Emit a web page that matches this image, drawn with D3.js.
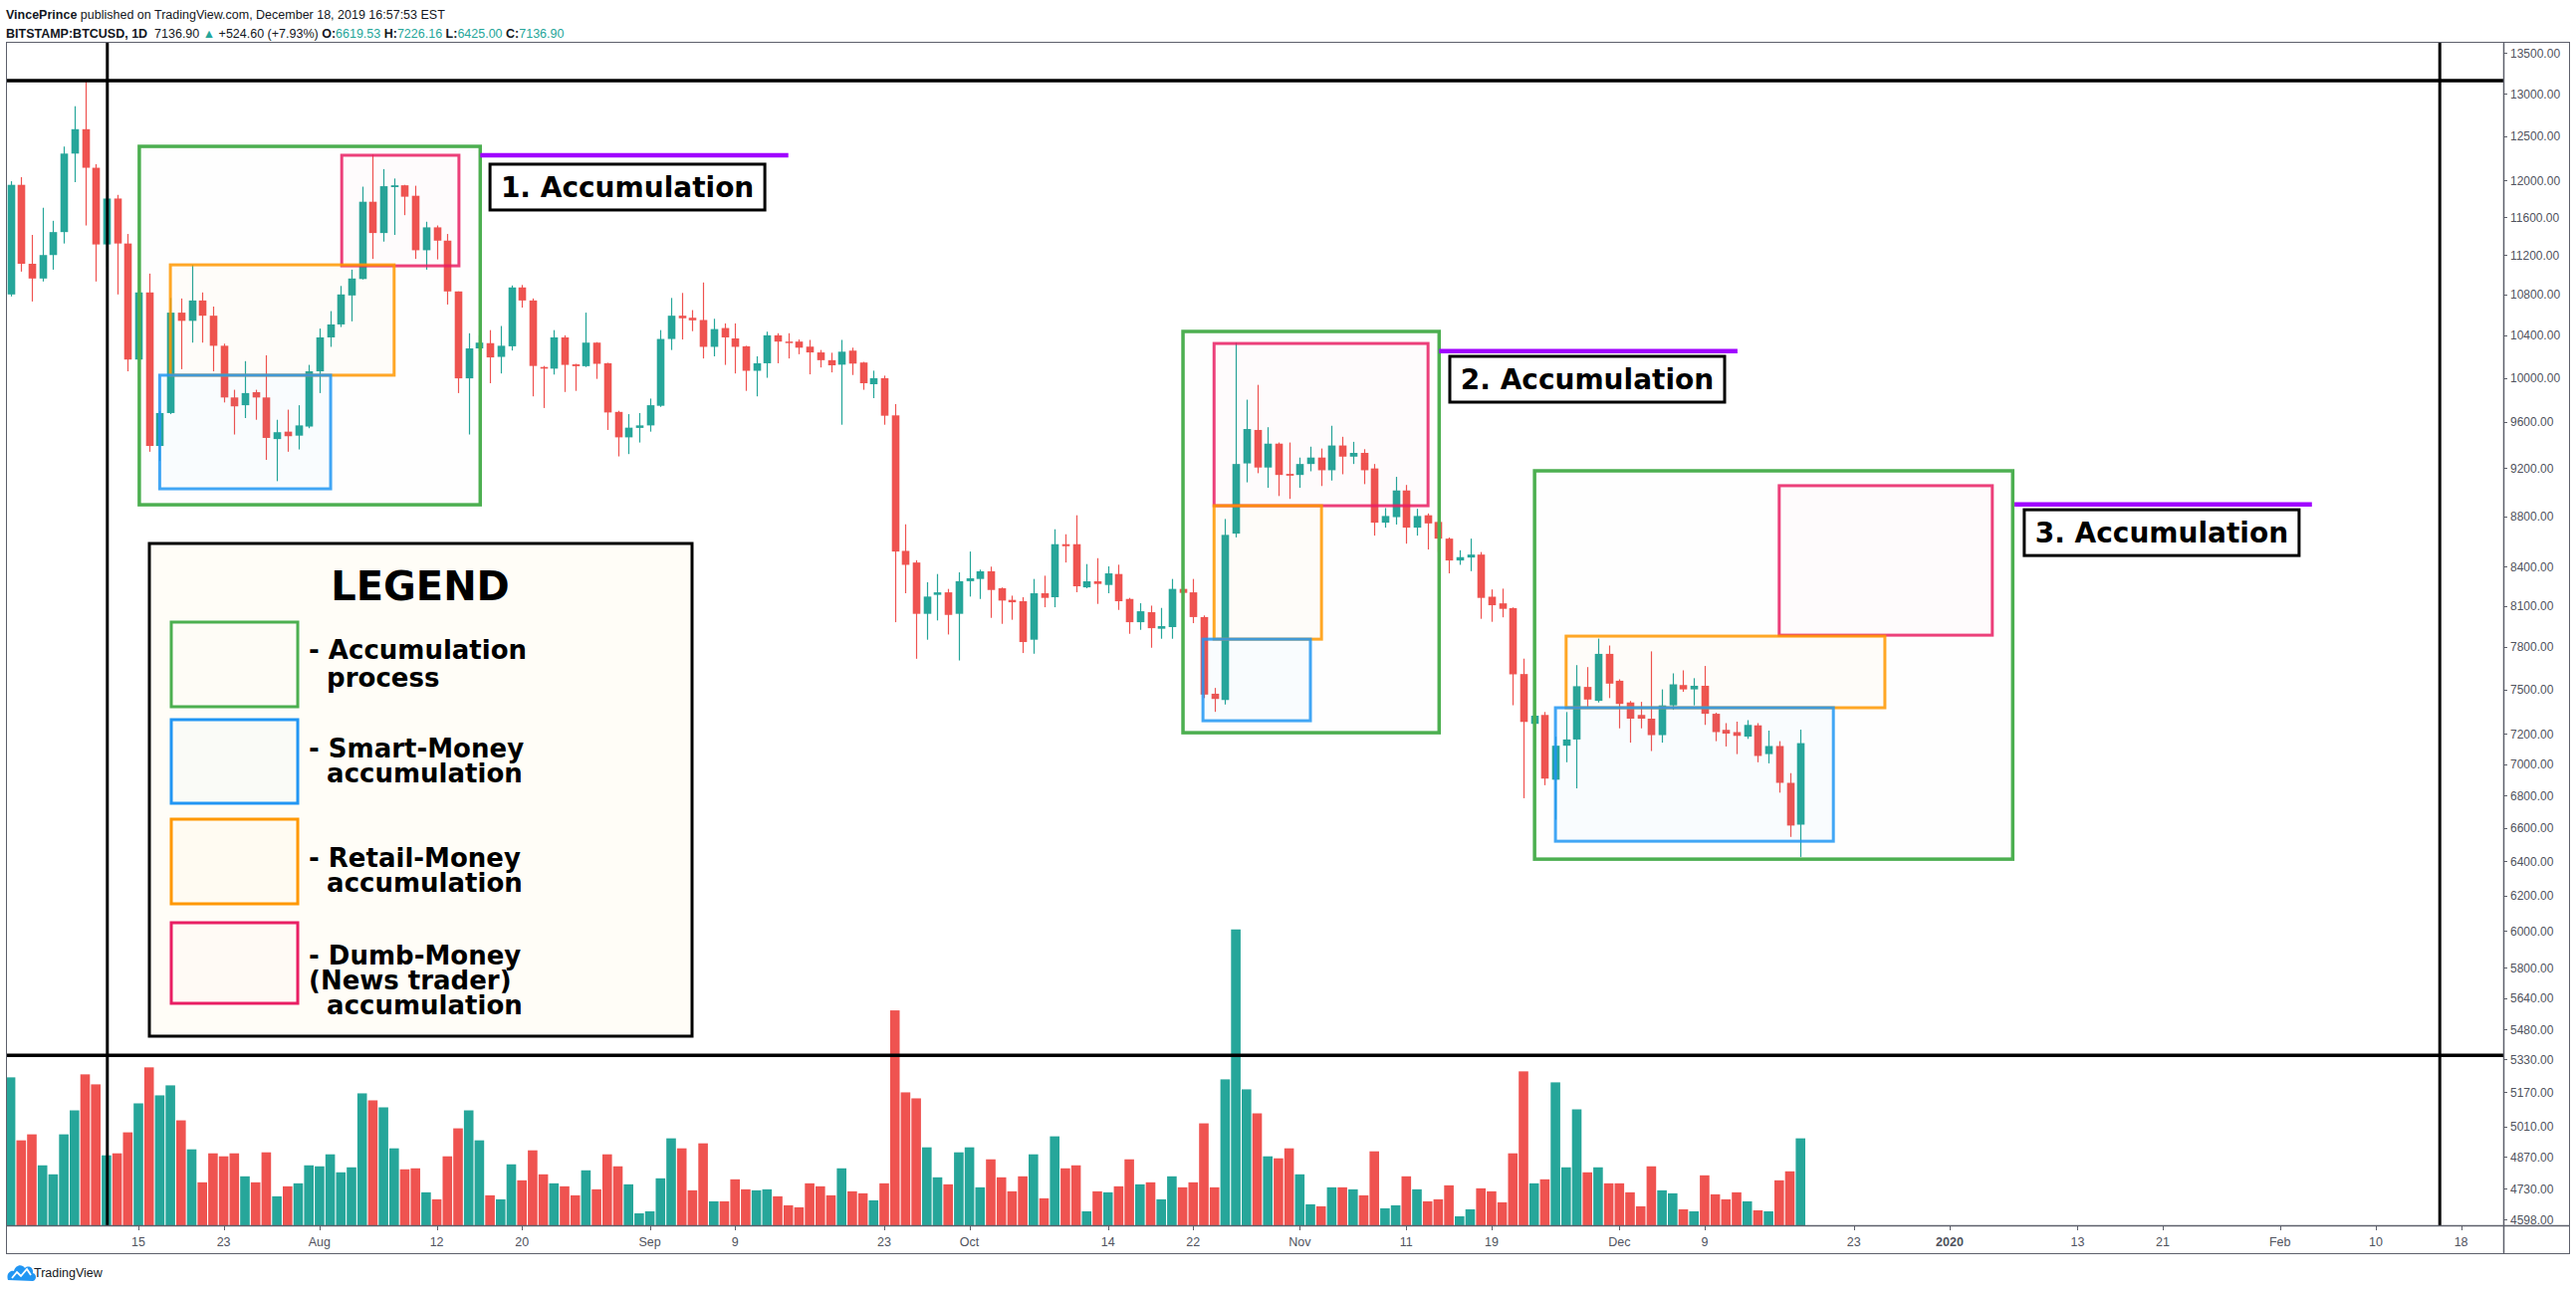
<!DOCTYPE html>
<html><head><meta charset="utf-8">
<script src="https://cdn.jsdelivr.net/npm/d3@7"></script>
<style>
html,body{margin:0;padding:0;background:#fff;}
svg{display:block;}
</style></head><body>
<svg id="chart" width="2587" height="1296"></svg>
<script>
// ---------------- DATA (BITSTAMP:BTCUSD, 1D) ----------------
const startDate = "2019-07-03";
const open = [
 10800,11950,11110,10960,11200,11440,12300,12580,12140,11310,
 11800,11320,10170,10820,9390,9680,10620,10540,10740,10590,
 10300,9820,9750,9868,9820,9450,9515,9480,9560,10060,
 10380,10505,10790,10955,11765,11430,11925,11945,11830,11250,
 11490,11350,10830,9995,10275,10325,10195,10295,10870,10740,
 10100,10085,10380,10125,10108,10330,10135,9690,9465,9548,
 9570,9745,10365,10590,10570,10548,10290,10470,10370,10295,
 10065,10135,10400,10340,10340,10292,10237,10164,10122,10254,
 10142,9941,9996,9659,8523,8432,8042,8184,8203,8042,
 8288,8305,8364,8234,8146,8136,7852,8196,8166,8576,
 8576,8241,8287,8259,8343,8153,7980,8054,7932,7944,
 8229,8203,8018,7470,7427,8660,9240,9530,9205,9410,
 9151,9142,9235,9290,9182,9394,9298,9330,9197,8748,
 8793,9012,8708,8808,8754,8620,8448,8471,8494,8170,
 8120,8084,7607,7265,7325,6900,7120,7161,7517,7421,
 7750,7560,7410,7325,7300,7190,7390,7530,7500,7525,
 7333,7225,7210,7180,7255,7065,7118,6880,6619.53];
const high = [
 11990,12035,11410,11700,11560,12380,12850,13150,12180,11900,
 11840,11420,10950,11010,9700,10765,10760,11100,10820,10680,
 10320,9890,10155,9890,10210,9620,9710,9750,10120,10465,
 10635,10885,11050,11930,12290,12125,12020,11950,11940,11550,
 11510,11420,10830,10420,10400,10450,10490,10890,10895,10760,
 10110,10450,10400,10130,10620,10335,10140,9700,9670,9680,
 9810,10450,10765,10815,10645,10920,10560,10515,10515,10300,
 10200,10435,10420,10420,10360,10356,10260,10234,10356,10282,
 10148,10066,10020,9760,8735,8450,8280,8343,8229,8356,
 8518,8377,8400,8240,8178,8166,8305,8330,8695,8655,
 8808,8420,8466,8402,8415,8161,8121,8103,8086,8305,
 8330,8305,8030,7510,8778,10330,9800,9935,9554,9420,
 9420,9290,9384,9368,9567,9470,9426,9362,9235,8867,
 9126,9058,8861,8823,8763,8629,8528,8620,8514,8225,
 8231,8090,7716,7345,7345,7180,7345,7670,7656,7860,
 7810,7570,7420,7414,7768,7500,7612,7633,7578,7664,
 7340,7270,7280,7290,7270,7220,7150,6942,7226.16];
const low = [
 10780,11030,10730,10930,11050,11320,11980,11510,10930,11080,
 10800,10060,10000,9340,9260,9670,10080,10330,10330,10060,
 9775,9490,9635,9620,9270,9090,9340,9360,9545,9860,
 10290,10480,10535,10950,11160,11340,11410,11620,11160,11050,
 11155,10700,9860,9490,10250,9950,10040,10255,10670,9830,
 9725,10030,9870,9880,10100,9990,9530,9300,9320,9420,
 9515,9735,10260,10360,10440,10180,10200,10120,10040,9880,
 9830,10000,10135,10180,10220,10032,10096,10050,9576,10026,
 9890,9814,9576,7980,8196,7715,7852,7993,7890,7703,
 8171,8153,8012,7968,7998,7756,7751,8091,8091,8432,
 8204,8234,8116,8196,8071,7895,7924,7794,7859,7859,
 8141,7973,7440,7346,7396,8630,9080,9157,9034,8966,
 8942,9034,9173,9049,9095,9148,9235,9065,8644,8708,
 8733,8580,8644,8534,8514,8348,8414,8365,8005,7983,
 8016,7391,6783,7110,6865,6650,7012,6845,7380,7410,
 7440,7235,7140,7235,7085,7140,7360,7483,7390,7258,
 7150,7115,7065,7165,7012,7005,6818,6545,6425];
const close = [
 11950,11110,10960,11200,11440,12300,12580,12140,11310,11800,
 11320,10170,10820,9390,9680,10620,10540,10740,10590,10300,
 9820,9740,9860,9820,9460,9510,9475,9570,10060,10380,
 10505,10800,10960,11765,11430,11935,11945,11820,11250,11490,
 11350,10830,9995,10275,10330,10190,10300,10870,10740,10110,
 10085,10380,10120,10108,10330,10130,9685,9465,9550,9570,
 9750,10365,10590,10565,10545,10290,10460,10380,10290,10065,
 10135,10400,10340,10330,10282,10237,10164,10116,10244,10132,
 9950,9996,9656,8518,8414,8042,8171,8203,8034,8288,
 8310,8364,8221,8141,8128,7835,8196,8161,8576,8560,
 8249,8287,8267,8348,8136,7980,8061,7936,7951,8229,
 8199,8018,7464,7434,8650,9235,9538,9205,9410,9142,
 9136,9235,9290,9182,9394,9298,9330,9182,8748,8802,
 9012,8708,8802,8742,8620,8448,8474,8494,8161,8106,
 8079,7605,7278,7320,6907,7120,7161,7522,7430,7750,
 7540,7400,7300,7300,7190,7390,7535,7500,7525,7333,
 7210,7200,7185,7258,7053,7118,6880,6614,7136.90];
const volume = [
 14800,8500,9100,6000,5100,9100,11500,15100,14100,7000,
 7200,9300,12200,15800,13000,14000,10500,7600,4300,7200,
 6900,7200,4900,4300,7300,2900,3900,4200,6000,5900,
 7100,5300,5800,13200,12500,11800,7700,5600,5700,3300,
 2600,6900,9700,11500,8500,3000,2600,6100,4500,7500,
 5100,4200,3900,3000,5500,3600,7100,5900,4100,1200,
 1400,4700,8700,7700,3500,8200,2400,2400,4600,3600,
 3500,3600,2900,2000,1800,4200,3900,3000,5700,3400,
 3200,2500,4200,21500,13300,12700,7800,4800,4100,7300,
 7800,3800,6600,4800,3400,4900,7100,2700,8900,5700,
 6000,1400,3400,3300,3900,6600,4100,4300,2600,4900,
 3800,4300,10200,3800,14600,29600,13600,11200,6900,6700,
 7700,5100,2100,1900,3800,3800,3600,3000,7400,1700,
 2000,4900,3600,2400,2600,4000,900,1600,3700,3400,
 2300,7200,15400,4200,4600,14300,5800,11600,5300,5800,
 4200,4200,3300,1900,5900,3500,3200,1600,1400,5000,
 3100,2600,3300,2400,1500,1400,4500,5400,8700];

const priceTicks = [13500,13000,12500,12000,11600,11200,10800,10400,10000,9600,9200,8800,8400,8100,7800,7500,7200,7000,
  6800,6600,6400,6200,6000,5800,5640,5480,5330,5170,5010,4870,4730,4598];
const dateTickDates  = ["2019-07-15","2019-07-23","2019-08-01","2019-08-12","2019-08-20","2019-09-01","2019-09-09","2019-09-23",
  "2019-10-01","2019-10-14","2019-10-22","2019-11-01","2019-11-11","2019-11-19","2019-12-01","2019-12-09","2019-12-23",
  "2020-01-01","2020-01-13","2020-01-21","2020-02-01","2020-02-10","2020-02-18"];
const dateTickLabels = ["15","23","Aug","12","20","Sep","9","23","Oct","14","22","Nov","11","19","Dec","9","23","2020","13","21","Feb","10","18"];

// drawings anchored in time/price
const zoneKinds = ["green","pink","orange","blue", "green","pink","orange","blue", "green","pink","orange","blue"];
const zoneStart = ["2019-07-15T02:00Z","2019-08-03T02:00Z","2019-07-18T00:00Z","2019-07-17T00:00Z",
                   "2019-10-21T01:00Z","2019-10-23T23:00Z","2019-10-23T23:00Z","2019-10-22T22:00Z",
                   "2019-11-23T01:00Z","2019-12-16T00:00Z","2019-11-26T00:00Z","2019-11-25T00:00Z"];
const zoneEnd   = ["2019-08-16T02:00Z","2019-08-14T02:00Z","2019-08-08T00:00Z","2019-08-02T01:00Z",
                   "2019-11-14T02:00Z","2019-11-13T01:00Z","2019-11-03T01:00Z","2019-11-02T00:00Z",
                   "2020-01-06T22:00Z","2020-01-05T00:00Z","2019-12-25T22:00Z","2019-12-21T02:00Z"];
const zoneTop    = [12382,12281,11099,10024, 10437,10322,8886,7856, 9177,9052,7878,7374];
const zoneBottom = [8894,11089,10024,9026,   7206,8886,7856,7286,  6412,7885,7374,6519];

const purpleStart = ["2019-08-16T02:00Z","2019-11-14T02:00Z","2020-01-07T02:00Z"];
const purpleEnd   = ["2019-09-14T00:00Z","2019-12-12T02:00Z","2020-02-04T00:00Z"];
const purpleLevel = [12281,10250,8897];

const labelTime  = ["2019-08-17T00:00Z","2019-11-15T02:00Z","2020-01-08T00:00Z"];
const labelPrice = [12180,10200,8853];
const labelText  = ["1. Accumulation","2. Accumulation","3. Accumulation"];

const blackPriceLines = [13157,5350];
const blackTimeLines  = ["2019-07-12T02:00Z","2020-02-16T00:00Z"];

const legendTitle = "LEGEND";
const legendKinds = ["green","blue","orange","pink"];
const legendLines = [["- Accumulation","  process"],["- Smart-Money","  accumulation"],["- Retail-Money","  accumulation"],["- Dumb-Money","(News trader)","  accumulation"]];

// ---------------- LAYOUT ----------------
const svg = d3.select("#chart");
const paneL=6, paneR=2514, paneT=42, paneB=1231, axisB=1259, axisR=2580;
const UP="#26a69a", DOWN="#ef5350";
const kindColor = {green:"#4caf50", pink:"#e91e63", orange:"#ff9800", blue:"#2196f3"};
const kindFill  = {green:"rgba(76,175,80,0.008)", pink:"rgba(233,30,99,0.012)", orange:"rgba(255,152,0,0.02)", blue:"rgba(33,150,243,0.025)"};
const n = close.length;
const dates = d3.utcDay.range(new Date(startDate), d3.utcDay.offset(new Date(startDate), n));

const x = d3.scaleUtc().domain([new Date("2019-07-03"), new Date("2020-02-18")]).range([10.6, 2471.6]);
const y = d3.scaleLog().domain([4598, 13500]).range([1225, 53]);
const yv = d3.scaleLinear().domain([0, d3.max(volume)]).range([paneB, paneB - 0.25*(paneB-paneT)]);

svg.append("rect").attr("width",2587).attr("height",1296).attr("fill","#fff");
svg.append("defs").append("clipPath").attr("id","pane").append("rect")
  .attr("x",paneL).attr("y",paneT).attr("width",paneR-paneL).attr("height",paneB-paneT);
const pane = svg.append("g").attr("clip-path","url(#pane)");

// volume
const idx = d3.range(n);
const bw = 9.6;
pane.append("g").selectAll("rect").data(idx).join("rect")
  .attr("x", i => x(dates[i]) - bw/2).attr("width", bw)
  .attr("y", i => yv(volume[i])).attr("height", i => paneB - yv(volume[i]))
  .attr("fill", i => close[i] >= open[i] ? UP : DOWN);

// candles
const cg = pane.append("g");
cg.selectAll("line").data(idx).join("line")
  .attr("x1", i => Math.round(x(dates[i]))+0.5).attr("x2", i => Math.round(x(dates[i]))+0.5)
  .attr("y1", i => y(high[i])).attr("y2", i => y(low[i]))
  .attr("stroke", i => close[i] >= open[i] ? UP : DOWN).attr("stroke-width",1.2);
const cw = 7.6;
cg.selectAll("rect").data(idx).join("rect")
  .attr("x", i => Math.round(x(dates[i]))+0.5 - cw/2).attr("width", cw)
  .attr("y", i => y(Math.max(open[i],close[i])))
  .attr("height", i => Math.max(1.5, y(Math.min(open[i],close[i])) - y(Math.max(open[i],close[i]))))
  .attr("fill", i => close[i] >= open[i] ? UP : DOWN);

// zones
const zg = pane.append("g");
zg.selectAll("rect").data(d3.range(zoneKinds.length)).join("rect")
  .attr("x", i => x(new Date(zoneStart[i]))).attr("width", i => x(new Date(zoneEnd[i])) - x(new Date(zoneStart[i])))
  .attr("y", i => y(zoneTop[i])).attr("height", i => y(zoneBottom[i]) - y(zoneTop[i]))
  .attr("fill", i => kindFill[zoneKinds[i]]).attr("stroke", i => kindColor[zoneKinds[i]])
  .attr("stroke-width", i => zoneKinds[i]==="green" ? 3.5 : 3).attr("stroke-opacity", i => zoneKinds[i]==="green"?1:0.85);

// black lines
pane.append("g").selectAll("line").data(blackPriceLines).join("line")
  .attr("x1", paneL).attr("x2", paneR).attr("y1", d => y(d)).attr("y2", d => y(d))
  .attr("stroke","#000").attr("stroke-width",3.5);
pane.append("g").selectAll("line").data(blackTimeLines).join("line")
  .attr("x1", d => x(new Date(d))).attr("x2", d => x(new Date(d))).attr("y1", paneT).attr("y2", paneB)
  .attr("stroke","#000").attr("stroke-width",3);

// purple lines
pane.append("g").selectAll("line").data(d3.range(3)).join("line")
  .attr("x1", i => x(new Date(purpleStart[i]))).attr("x2", i => x(new Date(purpleEnd[i])))
  .attr("y1", i => y(purpleLevel[i])).attr("y2", i => y(purpleLevel[i]))
  .attr("stroke","#a000ff").attr("stroke-width",4.5);

// labels
const lg = pane.append("g").selectAll("g").data(d3.range(3)).join("g")
  .attr("transform", i => `translate(${x(new Date(labelTime[i]))},${y(labelPrice[i])})`);
lg.append("rect").attr("width",276).attr("height",46).attr("fill","#fff").attr("stroke","#000").attr("stroke-width",3);
lg.append("text").attr("x",138).attr("y",33).attr("text-anchor","middle")
  .attr("font-family","DejaVu Sans, sans-serif").attr("font-weight","bold").attr("font-size",28).attr("fill","#000")
  .text(i => labelText[i]);

// legend
const leg = svg.append("g");
leg.append("rect").attr("x",150).attr("y",546).attr("width",545).attr("height",495)
  .attr("fill","#fffdf7").attr("stroke","#000").attr("stroke-width",3);
leg.append("text").attr("x",422).attr("y",603).attr("text-anchor","middle")
  .attr("font-family","DejaVu Sans, sans-serif").attr("font-weight","bold").attr("font-size",40).attr("fill","#000").text(legendTitle);
const swTop = [625,723,823,927], swH=[85,84,85,81];
const textY0 = [662,761,871,969];
const lineStep = [28,25,25,25];
legendKinds.forEach((k,i) => {
  leg.append("rect").attr("x",172).attr("y",swTop[i]).attr("width",127).attr("height",swH[i])
    .attr("fill",kindFill[k]).attr("stroke",kindColor[k]).attr("stroke-width",3);
  const t = leg.append("text").attr("x",310).attr("y",textY0[i]).attr("xml:space","preserve")
    .attr("font-family","DejaVu Sans, sans-serif").attr("font-weight","bold").attr("font-size",26).attr("fill","#000")
    .style("white-space","pre");
  legendLines[i].forEach((s,j) => {
    t.append("tspan").attr("x",310).attr("dy", j===0 ? 0 : lineStep[i]).text(s);
  });
});

// frame & axes
const axisColor = "#5d606b", textColor = "#50535e";
svg.append("rect").attr("x",paneL+0.5).attr("y",paneT+0.5).attr("width",axisR-paneL).attr("height",axisB-paneT)
  .attr("fill","none").attr("stroke",axisColor).attr("stroke-width",1);
svg.append("line").attr("x1",paneL).attr("x2",axisR).attr("y1",paneB+0.5).attr("y2",paneB+0.5).attr("stroke",axisColor).attr("stroke-width",1.5);
svg.append("line").attr("x1",paneR+0.5).attr("x2",paneR+0.5).attr("y1",paneT).attr("y2",axisB).attr("stroke",axisColor).attr("stroke-width",1.5);

const ya = svg.append("g");
ya.selectAll("line").data(priceTicks).join("line").attr("x1",paneR).attr("x2",paneR+4)
  .attr("y1", d => Math.round(y(d))+0.5).attr("y2", d => Math.round(y(d))+0.5).attr("stroke",axisColor);
ya.selectAll("text").data(priceTicks).join("text").attr("x",paneR+7).attr("y", d => y(d)+4.5)
  .attr("font-family","Liberation Sans, Arial, sans-serif").attr("font-size",12).attr("fill",textColor)
  .text(d => d.toFixed(2));

const xa = svg.append("g");
xa.selectAll("line").data(dateTickDates).join("line")
  .attr("x1", d => Math.round(x(new Date(d)))+0.5).attr("x2", d => Math.round(x(new Date(d)))+0.5)
  .attr("y1", paneB).attr("y2", paneB+5).attr("stroke",axisColor);
xa.selectAll("text").data(d3.range(dateTickDates.length)).join("text")
  .attr("x", i => x(new Date(dateTickDates[i]))).attr("y", 1252).attr("text-anchor","middle")
  .attr("font-family","Liberation Sans, Arial, sans-serif").attr("font-size",12.5).attr("fill",textColor)
  .attr("font-weight", i => dateTickLabels[i]==="2020" ? "bold" : "normal")
  .text(i => dateTickLabels[i]);

// header
const hf = "Liberation Sans, Arial, sans-serif";
const h1 = svg.append("text").attr("x",6).attr("y",19).attr("font-family",hf).attr("font-size",12.5).attr("fill","#131722");
h1.append("tspan").attr("font-weight","bold").text("VincePrince");
h1.append("tspan").text(" published on TradingView.com, December 18, 2019 16:57:53 EST");
const h2 = svg.append("text").attr("x",6).attr("y",38).attr("font-family",hf).attr("font-size",12.5).attr("fill","#131722").attr("xml:space","preserve");
h2.append("tspan").attr("font-weight","bold").text("BITSTAMP:BTCUSD, 1D");
h2.append("tspan").text("  7136.90 ");
h2.append("tspan").attr("fill",UP).text("\u25B2");
h2.append("tspan").text(" +524.60 (+7.93%) ");
[["O:","6619.53"],["H:","7226.16"],["L:","6425.00"],["C:","7136.90"]].forEach(([k,v],i) => {
  h2.append("tspan").attr("font-weight","bold").text((i?" ":"")+k);
  h2.append("tspan").attr("fill",UP).text(v);
});

// TradingView logo
const logo = svg.append("g").attr("transform","translate(7,1268)");
logo.append("path").attr("d","M1,18 C-1,12 3,8 7,9 C8,3 15,1 18,6 C21,3 27,5 26,11 C30,12 30,18 26,19 Z").attr("fill","#2196f3");
logo.append("path").attr("d","M5,16 L10,10 L14,14 L20,7 L24,13").attr("fill","none").attr("stroke","#fff").attr("stroke-width",1.8);
svg.append("text").attr("x",34).attr("y",1283).attr("font-family",hf).attr("font-size",12.5).attr("fill","#131722").text("TradingView");
</script>
</body></html>
